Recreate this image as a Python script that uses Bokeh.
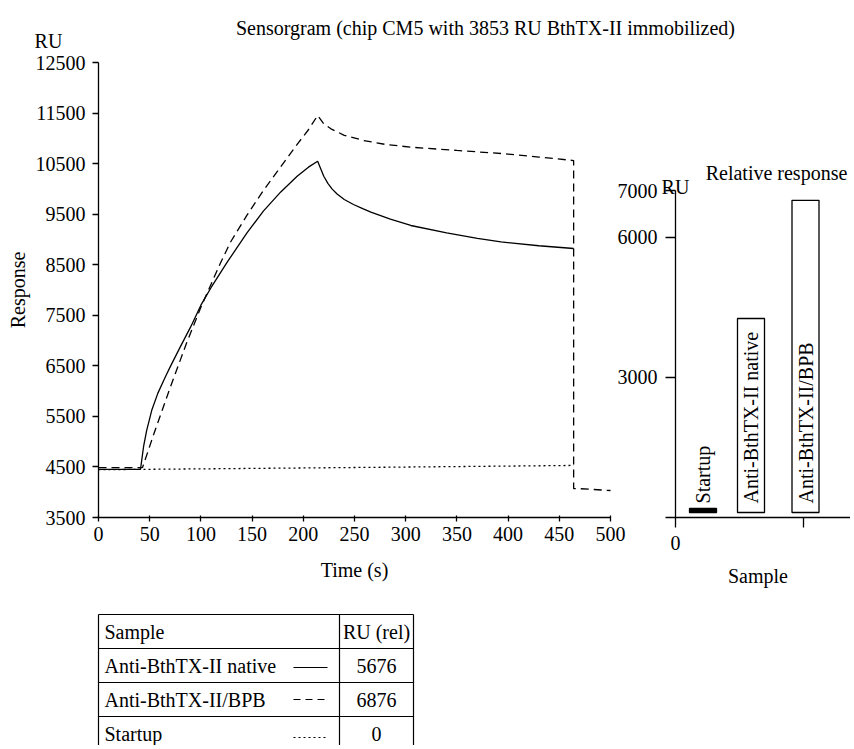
import math
from bokeh.plotting import figure
from bokeh.models import Range1d, FixedTicker, LinearAxis, ColumnDataSource
from bokeh.embed import file_html
from bokeh.resources import INLINE
from bokeh.core.properties import value

FONT = "Liberation Serif"
FS = "20px"
INK = "black"

# ---------------- data ----------------
title_text = "Sensorgram (chip CM5 with 3853 RU BthTX-II immobilized)"

time_ticks = [0, 50, 100, 150, 200, 250, 300, 350, 400, 450, 500]
response_ticks = [3500, 4500, 5500, 6500, 7500, 8500, 9500, 10500, 11500, 12500]

native_t = [0, 41, 42, 44, 47, 52, 58, 65, 70, 80, 90, 100, 110, 126, 145, 161, 178, 194, 205,
            214, 217, 220, 224, 228, 233, 240, 249, 258, 266, 285, 305, 340, 370, 393, 430, 464]
native_ru = [4450, 4450, 4600, 4900, 5220, 5620, 5960, 6270, 6480, 6880, 7270, 7700, 8050, 8560,
             9130, 9560, 9940, 10250, 10430, 10548, 10397, 10250, 10110, 10000, 9900, 9790, 9691,
             9610, 9539, 9400, 9276, 9130, 9020, 8950, 8875, 8821]

bpb_t = [0, 42, 43, 54, 70, 86, 100, 119, 129, 145, 161, 178, 194, 205, 214, 220, 227, 240, 259,
         280, 305, 350, 393, 430, 464, 464, 470, 500]
bpb_ru = [4485, 4485, 4490, 5150, 6070, 6950, 7660, 8530, 8950, 9480, 9968, 10440, 10880, 11170,
          11451, 11287, 11188, 11060, 10957, 10880, 10825, 10760, 10700, 10630, 10561, 4074, 4070,
          4034]

startup_t = [0, 100, 200, 300, 400, 464]
startup_ru = [4445, 4462, 4480, 4498, 4517, 4530]

rel_ticks = [3000, 6000, 7000]
bar_labels = ["Startup", "Anti-BthTX-II native", "Anti-BthTX-II/BPB"]
bar_base = [107, 107, 107]
bar_top = [193, 4260, 6790]
bar_fill = ["black", "white", "white"]

table_header = ["Sample", "RU (rel)"]
table_samples = ["Anti-BthTX-II native", "Anti-BthTX-II/BPB", "Startup"]
table_ru = ["5676", "6876", "0"]
table_dash = ["solid", "7 5", "2 3"]

# ---------------- canvas (pixel coordinates, y measured up from the bottom) ----------------
W, H = 850, 745


def py(page_y):
    return H - page_y


def rng(v_a, px_a, v_b, px_b, px_lo, px_hi):
    k = (v_b - v_a) / (px_b - px_a)
    return Range1d(v_a + (px_lo - px_a) * k, v_a + (px_hi - px_a) * k)


p = figure(width=W, height=H, x_range=Range1d(0, W), y_range=Range1d(0, H),
           output_backend="svg", toolbar_location=None, title=None,
           x_axis_type=None, y_axis_type=None, min_border=0)
p.outline_line_color = None

# sensorgram scales
p.extra_x_ranges["sx"] = rng(0, 98, 500, 610, 0, W)
p.extra_y_ranges["sy"] = rng(3500, py(517), 12500, py(62), 0, H)
# bar chart scales (1 sample unit = 50 px)
p.extra_x_ranges["bx"] = rng(0, 675, 1, 725, 0, W)
p.extra_y_ranges["by"] = rng(0, py(517), 7000, py(190), 0, H)


def style_axis(ax):
    ax.axis_line_color = INK
    ax.axis_line_width = 1.3
    ax.major_tick_line_color = INK
    ax.major_tick_line_width = 1.3
    ax.minor_tick_line_color = None
    ax.major_label_text_font = FONT
    ax.major_label_text_font_size = FS
    ax.major_label_text_color = INK
    ax.axis_label_text_font = FONT
    ax.axis_label_text_font_size = FS
    ax.axis_label_text_font_style = "normal"
    ax.axis_label_text_color = INK


sxa = LinearAxis(x_range_name="sx", y_range_name="sy", fixed_location=3500, bounds=(0, 500),
                 ticker=FixedTicker(ticks=time_ticks), axis_label="Time (s)")
style_axis(sxa)
sxa.major_tick_in = 2
sxa.major_tick_out = 4
sxa.major_label_standoff = 5
sxa.axis_label_standoff = 15
p.add_layout(sxa, "below")

sya = LinearAxis(x_range_name="sx", y_range_name="sy", fixed_location=0, bounds=(3500, 12500),
                 ticker=FixedTicker(ticks=response_ticks), axis_label="Response")
style_axis(sya)
sya.major_tick_in = 0
sya.major_tick_out = 6
sya.major_label_standoff = 7
sya.axis_label_standoff = 4
p.add_layout(sya, "left")

bya = LinearAxis(x_range_name="bx", y_range_name="by", fixed_location=0, bounds=(0, 7000),
                 ticker=FixedTicker(ticks=rel_ticks))
style_axis(bya)
bya.major_tick_in = 0
bya.major_tick_out = 10
bya.major_label_standoff = 8
p.add_layout(bya, "left")

bxa = LinearAxis(x_range_name="bx", y_range_name="by", fixed_location=0, bounds=(-0.2, 3.5),
                 ticker=FixedTicker(ticks=[0, 2.55]), axis_label="Sample")
style_axis(bxa)
bxa.major_label_overrides = {2.55: ""}
bxa.major_tick_in = 0
bxa.major_tick_out = 10
bxa.major_label_standoff = 8
bxa.axis_label_standoff = 12
p.add_layout(bxa, "below")

# ---------------- sensorgram lines ----------------
p.line(startup_t, startup_ru, line_color=INK, line_width=1.3, line_dash="2 3",
       x_range_name="sx", y_range_name="sy")
p.line(bpb_t, bpb_ru, line_color=INK, line_width=1.3, line_dash="8 5",
       x_range_name="sx", y_range_name="sy")
p.line(native_t, native_ru, line_color=INK, line_width=1.3,
       x_range_name="sx", y_range_name="sy")

# ---------------- bars ----------------
bar_x = [0.55, 1.51, 2.6]
src = ColumnDataSource(dict(x=bar_x, base=bar_base, top=bar_top, fill=bar_fill,
                            label=bar_labels, ly=[300, 300, 300]))
p.vbar(x="x", width=0.54, bottom="base", top="top", fill_color="fill",
       line_color=INK, line_width=1.3, source=src, x_range_name="bx", y_range_name="by")
p.text(x="x", y="ly", text="label", angle=math.pi / 2, text_align="left",
       text_baseline="middle", text_font=value(FONT), text_font_size=FS,
       text_color=INK, source=src, x_range_name="bx", y_range_name="by")

# ---------------- free texts (pixel positions) ----------------
p.text(x=[485, 48, 675, 776], y=[py(27), py(40), py(186), py(172)],
       text=[title_text, "RU", "RU", "Relative response"],
       text_font=value(FONT), text_font_size=FS, text_align="center",
       text_baseline="alphabetic", text_color=INK)

# ---------------- table ----------------
t_left, t_split, t_right, t_top, row_h = 98, 339, 413, py(614), 34
n_rows = 1 + len(table_samples)
h_y = [t_top - k * row_h for k in range(n_rows + 1)]
p.segment(x0=[t_left] * len(h_y), x1=[t_right] * len(h_y), y0=h_y, y1=h_y,
          line_color=INK, line_width=1.2)
v_x = [t_left, t_split, t_right]
p.segment(x0=v_x, x1=v_x, y0=[t_top] * 3, y1=[h_y[-1]] * 3, line_color=INK, line_width=1.2)

centers = [t_top - (k + 0.5) * row_h for k in range(n_rows)]
left_texts = [table_header[0]] + table_samples
right_texts = [table_header[1]] + table_ru
p.text(x=[t_left + 6] * n_rows, y=centers, text=left_texts, text_font=value(FONT),
       text_font_size=FS, text_align="left", text_baseline="middle", text_color=INK)
p.text(x=[(t_split + t_right) / 2] * n_rows, y=centers, text=right_texts,
       text_font=value(FONT), text_font_size=FS, text_align="center",
       text_baseline="middle", text_color=INK)
offs = [-2, 0, -4]
for i, dash in enumerate(table_dash):
    yy = centers[i + 1] + offs[i]
    p.line([t_split - 46, t_split - 12], [yy, yy], line_color=INK, line_width=1.2,
           line_dash=dash)

open("out.html", "w").write(file_html(p, INLINE))
